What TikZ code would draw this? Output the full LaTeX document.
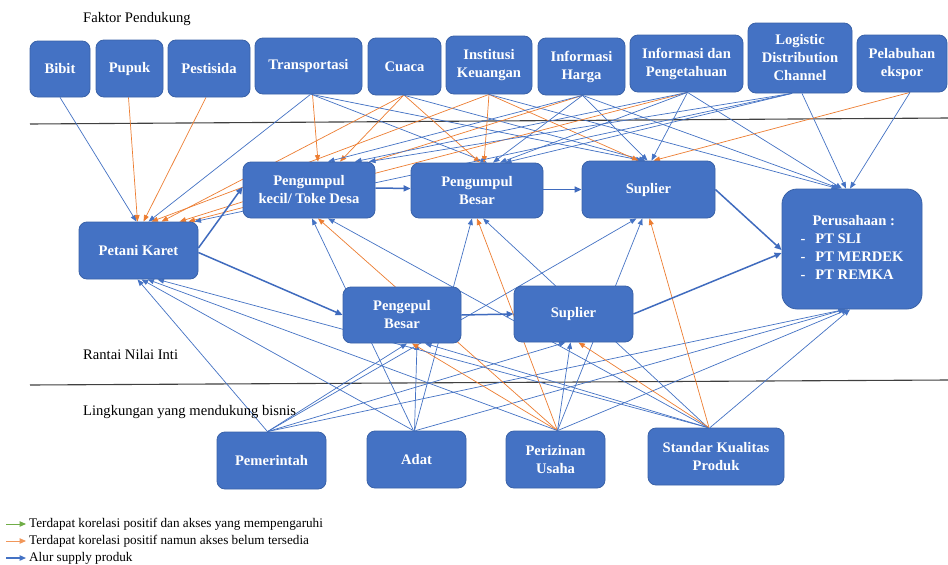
\documentclass[tikz,border=0pt]{standalone}
\usepackage{fontspec}
\setmainfont{Liberation Serif}
\usetikzlibrary{arrows.meta}
\pgfdeclarelayer{bg}
\pgfdeclarelayer{paper}
\pgfsetlayers{paper,bg,main}
\definecolor{obl}{HTML}{4472C4}
\definecolor{oor}{HTML}{ED7D31}
\definecolor{ogr}{HTML}{70AD47}
\definecolor{obd}{HTML}{3A62A8}
\definecolor{flw}{HTML}{3F6BBE}
\tikzset{
  box/.style={rounded corners=8pt, fill=obl, draw=obd, line width=0.8pt, text=white,
    font=\bfseries\fontsize{14.6}{18}\selectfont, align=center, inner sep=0pt},
  bll/.style={draw=obl, line width=0.7pt, -{Triangle[length=6.5pt,width=5pt]}},
  oll/.style={draw=oor, line width=0.7pt, -{Triangle[length=6.5pt,width=5pt]}},
  gll/.style={draw=ogr, line width=1pt, -{Triangle[length=6.5pt,width=5.5pt]}},
  legol/.style={draw=oor!80, line width=1pt, -{Triangle[length=6.5pt,width=5.5pt]}},
  legbl/.style={draw=obl, line width=1.2pt, -{Triangle[length=6.5pt,width=5.5pt]}},
  flow/.style={draw=flw, line width=1.5pt, -{Triangle[length=7pt,width=6pt]}},
  sepline/.style={draw=black!75, line width=1.1pt},
  lbl/.style={font=\fontsize{14.6}{17}\selectfont, inner sep=0pt, anchor=west},
  leg/.style={font=\fontsize{13.2}{15}\selectfont, inner sep=0pt, anchor=west}
}
\begin{document}
\begin{tikzpicture}[x=1pt,y=-1pt]
\useasboundingbox (0,0) rectangle (948,565);
\begin{pgfonlayer}{paper}
\fill[white] (0,0) rectangle (948,565);
\end{pgfonlayer}

% labels
\node[lbl] (faktor) at (83,19) {Faktor Pendukung};
\node[lbl] (rantai) at (83,355) {Rantai Nilai Inti};
\node[lbl] (lingk) at (83,412) {Lingkungan yang mendukung bisnis};

% separator lines
\begin{pgfonlayer}{bg}
\draw[sepline] (30,124) -- (948,118);
\draw[sepline] (30,385) -- (948,380);
\end{pgfonlayer}

% top row
\node[box, minimum width=60pt, minimum height=56pt] (bibit) at (60,69) {Bibit};
\node[box, minimum width=67pt, minimum height=57pt] (pupuk) at (129.5,68.5) {Pupuk};
\node[box, minimum width=82pt, minimum height=57pt] (pestisida) at (209,68.5) {Pestisida};
\node[box, minimum width=107pt, minimum height=56pt] (transport) at (308.5,66) {Transportasi};
\node[box, minimum width=73pt, minimum height=57pt] (cuaca) at (404.5,66.5) {Cuaca};
\node[box, minimum width=86pt, minimum height=58pt] (institusi) at (489,65) {Institusi\\Keuangan};
\node[box, minimum width=87pt, minimum height=57pt] (harga) at (581.5,66.5) {Informasi\\Harga};
\node[box, minimum width=113pt, minimum height=57pt] (pengetahuan) at (686.5,63.5) {Informasi dan\\Pengetahuan};
\node[box, minimum width=104pt, minimum height=70pt] (logistic) at (800,58) {Logistic\\Distribution\\Channel};
\node[box, minimum width=90pt, minimum height=57pt] (pelabuhan) at (902,63.5) {Pelabuhan\\ekspor};

% middle row
\node[box, minimum width=132pt, minimum height=56pt] (pkecil) at (309,190) {Pengumpul\\kecil/ Toke Desa};
\node[box, minimum width=132pt, minimum height=55pt] (pbesar) at (477,190.5) {Pengumpul\\Besar};
\node[box, minimum width=133pt, minimum height=57pt] (suptop) at (648.5,189.5) {Suplier};
\node[box, rounded corners=15pt, minimum width=140pt, minimum height=120pt] (perus) at (852,249)
  {\begin{tabular}{@{}l@{\hspace{10pt}}l@{}}\multicolumn{2}{@{}l}{\hspace{12pt}Perusahaan :}\\ - & PT SLI\\ - & PT MERDEK\\ - & PT REMKA\end{tabular}};
\node[box, minimum width=119pt, minimum height=57pt] (petani) at (138.5,250.5) {Petani Karet};
\node[box, minimum width=118pt, minimum height=56pt] (pengepul) at (402,315) {Pengepul\\Besar};
\node[box, minimum width=119pt, minimum height=56pt] (suplow) at (573.5,314) {Suplier};

% bottom row
\node[box, minimum width=109pt, minimum height=57pt] (pemerintah) at (271.5,460.5) {Pemerintah};
\node[box, minimum width=99pt, minimum height=57pt] (adat) at (416.5,459.5) {Adat};
\node[box, minimum width=99pt, minimum height=57pt] (perizinan) at (555.5,459.5) {Perizinan\\Usaha};
\node[box, minimum width=136pt, minimum height=57pt] (standar) at (716,456.5) {Standar Kualitas\\Produk};

% main supply flow
\draw[flow] ([yshift=2.5pt]petani.east) -- ([yshift=3pt]pkecil.west);
\draw[flow] ([yshift=-2pt]petani.east) -- (pengepul.west);
\draw[flow] ([yshift=2pt]pkecil.east) -- ([yshift=2pt]pbesar.west);
\draw[flow] ([yshift=1pt]pbesar.east) -- (suptop.west);
\draw[flow] (suptop.east) -- ([yshift=-1pt]perus.west);
\draw[flow] (pengepul.east) -- (suplow.west);
\draw[flow] (suplow.east) -- ([yshift=-4pt]perus.west);

\begin{pgfonlayer}{bg}
% supporting factors -> chain
\draw[bll] (bibit.south) -- ([xshift=-2pt]petani.north);
\draw[oll] ([xshift=-1pt]pupuk.south) -- ([xshift=-1pt]petani.north);
\draw[oll] ([xshift=-3pt]pestisida.south) -- ([xshift=5pt]petani.north);
\draw[bll] ([xshift=2pt]transport.south) -- ([xshift=10pt]petani.north);
\draw[oll] ([xshift=4pt]transport.south) -- ([xshift=9pt]pkecil.north);
\draw[bll] ([xshift=3pt]transport.south) -- ([xshift=10pt]pbesar.north);
\draw[bll] ([xshift=3pt]transport.south) -- ([xshift=-6pt]suptop.north);
\draw[oll] ([xshift=-1pt]cuaca.south) -- ([xshift=23pt]petani.north);
\draw[oll] ([xshift=-1pt]cuaca.south) -- ([xshift=31pt]pkecil.north);
\draw[oll] (cuaca.south) -- ([xshift=3pt]pbesar.north);
\draw[bll] (cuaca.south) -- ([xshift=-3pt]suptop.north);
\draw[oll] (institusi.south) -- ([xshift=13pt]petani.north);
\draw[oll] (institusi.south) -- ([xshift=7pt]pbesar.north);
\draw[oll] (institusi.south) -- ([xshift=-10pt]suptop.north);
\draw[bll] (institusi.south) -- ([xshift=-14pt]perus.north);
\draw[oll] ([xshift=1pt]harga.south) -- ([xshift=41pt]petani.north);
\draw[bll] ([xshift=1pt]harga.south) -- ([xshift=19pt]pkecil.north);
\draw[bll] ([xshift=1pt]harga.south) -- ([xshift=16pt]pbesar.north);
\draw[bll] ([xshift=1pt]harga.south) -- ([xshift=-1pt]suptop.north);
\draw[bll] ([xshift=1pt]harga.south) -- ([xshift=-12pt]perus.north);
\draw[oll] ([xshift=1pt]pengetahuan.south) -- ([xshift=50pt]petani.north);
\draw[bll] ([xshift=1pt]pengetahuan.south) -- ([xshift=46pt]pkecil.north);
\draw[bll] ([xshift=1pt]pengetahuan.south) -- ([xshift=23pt]pbesar.north);
\draw[bll] ([xshift=1pt]pengetahuan.south) -- ([xshift=3pt]suptop.north);
\draw[bll] ([xshift=1pt]pengetahuan.south) -- ([xshift=-10pt]perus.north);
\draw[bll] ([xshift=-8pt]logistic.south) -- ([xshift=56pt]petani.north);
\draw[bll] ([xshift=-8pt]logistic.south) -- ([xshift=60pt]pkecil.north);
\draw[bll] ([xshift=-8pt]logistic.south) -- ([xshift=28pt]pbesar.north);
\draw[bll] ([xshift=2pt]logistic.south) -- ([xshift=-6pt]perus.north);
\draw[oll] ([xshift=8pt]pelabuhan.south) -- ([xshift=5pt]suptop.north);
\draw[bll] ([xshift=8pt]pelabuhan.south) -- ([xshift=-2pt]perus.north);

% business environment -> chain
\draw[bll] ([xshift=-4pt]pemerintah.north) -- ([xshift=-1pt]petani.south);
\draw[bll] ([xshift=-4pt]pemerintah.north) -- ([xshift=5pt]pengepul.south);
\draw[bll] ([xshift=-4pt]pemerintah.north) -- ([xshift=-12pt]suptop.south);
\draw[bll] ([xshift=-4pt]pemerintah.north) -- ([xshift=-8pt]suplow.south);
\draw[bll] ([xshift=-4pt]pemerintah.north) -- ([xshift=-7pt]perus.south);
\draw[bll] ([xshift=-3pt]adat.north) -- ([xshift=3pt]petani.south);
\draw[bll] ([xshift=-3pt]adat.north) -- ([xshift=3pt]pkecil.south);
\draw[bll] ([xshift=-2pt]adat.north) -- ([xshift=-5pt]pbesar.south);
\draw[bll] ([xshift=-2pt]adat.north) -- ([xshift=15pt]pengepul.south);
\draw[bll] ([xshift=-1pt]adat.north) -- ([xshift=-7pt]perus.south);
\draw[oll] ([xshift=2pt]perizinan.north) -- ([xshift=9pt]pkecil.south);
\draw[oll] ([xshift=2pt]perizinan.north) -- (pbesar.south);
\draw[oll] ([xshift=2pt]perizinan.north) -- ([xshift=10pt]pengepul.south);
\draw[bll] ([xshift=2pt]perizinan.north) -- ([xshift=9pt]petani.south);
\draw[bll] ([xshift=2pt]perizinan.north) -- ([xshift=-3pt]suplow.south);
\draw[bll] ([xshift=2pt]perizinan.north) -- ([xshift=-6pt]suptop.south);
\draw[bll] ([xshift=2pt]perizinan.north) -- ([xshift=-4pt]perus.south);
\draw[bll] ([xshift=-8pt]standar.north) -- ([xshift=19pt]petani.south);
\draw[bll] ([xshift=-8pt]standar.north) -- ([xshift=19pt]pkecil.south);
\draw[bll] ([xshift=-8pt]standar.north) -- ([xshift=6pt]pbesar.south);
\draw[bll] ([xshift=-8pt]standar.north) -- ([xshift=23pt]pengepul.south);
\draw[oll] ([xshift=-7pt]standar.north) -- ([xshift=1pt]suptop.south);
\draw[oll] ([xshift=-7pt]standar.north) -- ([xshift=5pt]suplow.south);
\draw[bll] ([xshift=-6pt]standar.north) -- ([xshift=-2pt]perus.south);
\end{pgfonlayer}

% legend
\coordinate (lga) at (6,524); \coordinate (lgb) at (26,524);
\coordinate (lgc) at (6,541); \coordinate (lgd) at (26,541);
\coordinate (lge) at (6,558); \coordinate (lgf) at (26,558);
\draw[gll] (lga) -- (lgb);
\draw[legol] (lgc) -- (lgd);
\draw[legbl] (lge) -- (lgf);
\node[leg] (leg1) at (29,524) {Terdapat korelasi positif dan akses yang mempengaruhi};
\node[leg] (leg2) at (29,541) {Terdapat korelasi positif namun akses belum tersedia};
\node[leg] (leg3) at (29,558) {Alur supply produk};
\end{tikzpicture}
\end{document}
